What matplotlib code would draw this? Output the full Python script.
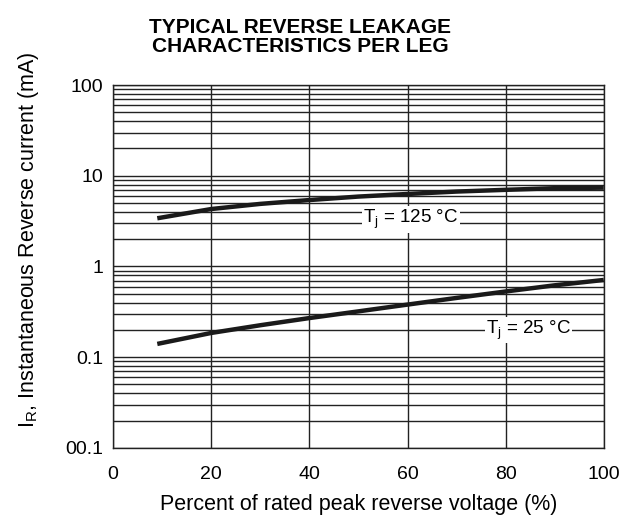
import numpy as np
import matplotlib
matplotlib.use('Agg')
import matplotlib.pyplot as plt
from matplotlib.ticker import FixedLocator, NullFormatter

plt.rcParams['font.family'] = ['Liberation Sans', 'DejaVu Sans']

# ─── Data ────────────────────────────────────────────────────────────────────
pct = [9, 20, 30, 40, 50, 60, 70, 80, 90, 100]
ir_125 = [3.4, 4.3, 4.9, 5.4, 5.9, 6.3, 6.7, 7.0, 7.3, 7.4]
ir_25 = [0.14, 0.185, 0.225, 0.27, 0.32, 0.38, 0.45, 0.53, 0.62, 0.71]

y_ticks = [0.01, 0.1, 1, 10, 100]
y_ticklabels = ['00.1', '0.1', '1', '10', '100']
x_ticks = [0, 20, 40, 60, 80, 100]

# ─── Plot ────────────────────────────────────────────────────────────────────
fig = plt.figure(figsize=(6.25, 5.22), dpi=100)
ax = fig.add_axes([0.181, 0.142, 0.785, 0.695])

ax.set_yscale('log')
ax.set_xlim(0, 100)
ax.set_ylim(0.01, 100)

minor = [m * 10.0 ** e for e in range(-2, 2) for m in range(2, 10)]
ax.yaxis.set_major_locator(FixedLocator(y_ticks))
ax.yaxis.set_minor_locator(FixedLocator(minor))
ax.yaxis.set_minor_formatter(NullFormatter())
ax.set_yticklabels(y_ticklabels)
ax.set_xticks(x_ticks)

ax.grid(True, which='both', axis='y', color='#222222', lw=1.0)
ax.grid(True, which='major', axis='x', color='#222222', lw=1.0)
ax.tick_params(which='both', length=0, labelsize=14)
ax.tick_params(axis='y', pad=7)
ax.tick_params(axis='x', pad=13)
for s in ax.spines.values():
    s.set_linewidth(1.0)
    s.set_color('#222222')

ax.plot(pct, ir_125, color='#1a1a1a', lw=3.2, solid_capstyle='butt', zorder=4)
ax.plot(pct, ir_25, color='#1a1a1a', lw=3.2, solid_capstyle='butt', zorder=4)

box = dict(facecolor='white', edgecolor='none', pad=1.0)
ax.text(51.0, 3.3, r'T$_\mathregular{j}$ = 125 °C', fontsize=13.5, va='center',
        ha='left', bbox=box, zorder=3)
ax.text(76.0, 0.2, r'T$_\mathregular{j}$ = 25 °C', fontsize=13.5, va='center',
        ha='left', bbox=box, zorder=3)

ax.set_xlabel('Percent of rated peak reverse voltage (%)', fontsize=15.5, labelpad=8)
fig.text(0.045, 0.54, r'I$_\mathregular{R}$, Instantaneous Reverse current (mA)',
         fontsize=15.5, rotation=90, ha='center', va='center')
fig.text(0.48, 0.929, 'TYPICAL REVERSE LEAKAGE\nCHARACTERISTICS PER LEG',
         ha='center', va='center', fontsize=15, fontweight='bold', linespacing=0.95)

fig.savefig('out.png', dpi=100)
